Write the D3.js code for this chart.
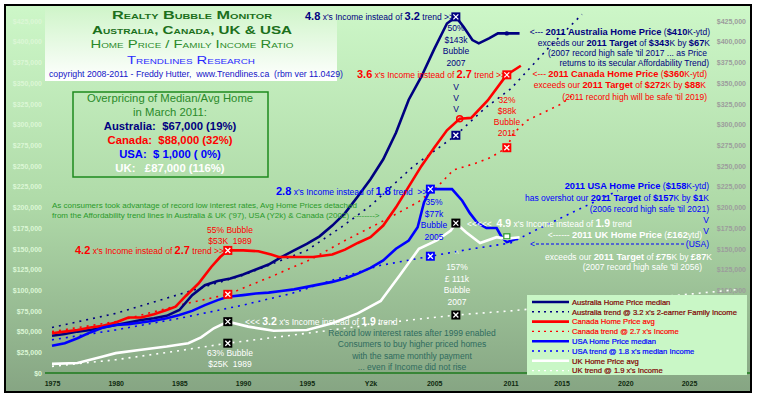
<!DOCTYPE html>
<html>
<head>
<meta charset="utf-8">
<script src="https://cdn.jsdelivr.net/npm/d3@7"></script>
<style>
  body { margin: 0; background: #fff; }
  svg text { font-family: "Liberation Sans", Arial, sans-serif; white-space: pre; }
</style>
</head>
<body>
<svg id="chart"></svg>
<script>
// tick labels
var xTicks = [1975, 1980, 1985, 1990, 1995, 2000, 2005, 2011, 2015, 2020, 2025];
var xTickLabels = ["1975", "1980", "1985", "1990", "1995", "Y2k", "2005", "2011", "2015", "2020", "2025"];
var yTicks = d3.range(0, 425001, 25000);

// series, [year, $k]
var ausMedian = [[1975,45],[1976,47],[1977,50],[1978,52],[1979,55],[1980,58],[1981,61],[1982,64],[1983,66],[1984,69],[1985,76],[1986,94],[1987,106],[1988,111],[1989,114],[1990,119],[1991,125],[1992,131],[1993,140],[1994,148],[1995,156],[1996,165],[1997,178],[1998,193],[1999,213],[2000,234],[2001,258],[2002,290],[2003,330],[2004,358],[2005,391],[2006,422],[2006.7,430],[2007.3,418],[2008,402],[2008.5,398],[2009.3,404],[2010,410],[2010.7,410],[2011.7,410]];
var ausTrend = [[1975,55],[1980,72],[1985,95],[1990,118],[1995,148],[1997.7,176],[2000,202],[2003.4,250],[2006.7,287],[2009,320],[2011,343],[2014,393],[2016.6,433]];
var canAvg = [[1975,48],[1976,50],[1977,52],[1978,55],[1979,57],[1980,61],[1981,67],[1982,67],[1983,71],[1984,76],[1984.7,80],[1985.5,93],[1986.5,108],[1987.5,128],[1988.2,140],[1988.8,148],[1990,148],[1991.2,147],[1992.2,143],[1992.8,140],[1994,140],[1995.5,140],[1997,143],[1998,149],[1999,157],[2000,164],[2001,178],[2002,200],[2003,225],[2004,250],[2005,272],[2006,293],[2007,307],[2007.9,308],[2009.2,329],[2010.5,356],[2010.7,360],[2011.8,371]];
var canTrend = [[1975,50],[1980,62],[1985,82],[1988.8,95],[1992,115],[1995.3,137],[1998,160],[2000.8,182],[2003.7,206],[2005.2,224],[2006.5,245],[2008.4,254],[2009.4,260],[2010.7,272],[2011.2,289],[2012.3,305],[2015,325],[2016,337]];
var usaMedian = [[1975,33],[1976,36],[1977,42],[1978,49],[1979,55],[1980,58],[1981,59],[1982,61],[1983,63],[1984,66],[1985,70],[1986,75],[1987,82],[1988,88],[1988.8,92],[1990,94],[1991,96],[1992,97],[1993,99],[1994,101],[1995,104],[1996,107],[1997,110],[1998,114],[1999,120],[2000,127],[2001,136],[2002,150],[2003,160],[2003.7,176],[2004.2,206],[2004.7,222],[2005.5,222],[2006.4,222],[2007.2,208],[2007.8,193],[2008.4,181],[2009.1,175],[2009.9,175],[2010.3,164],[2010.7,158],[2011.5,162]];
var usaTrend = [[1975,40],[1980,52],[1985,66],[1990,82],[1993.8,96],[1997,112],[2000.8,130],[2004.7,141],[2008,150],[2011,157],[2012.9,172],[2016,195],[2019.4,220]];
var ukAvg = [[1975,11],[1977,12],[1978,16],[1979,20],[1980,24],[1982,28],[1984,32],[1985.7,36],[1986.7,43],[1987.7,54],[1988.8,62],[1990.4,56],[1992.4,51],[1995,52],[1997,60],[1999,72],[2000.8,87],[2002.3,118],[2003.8,150],[2005.2,160],[2006.3,172],[2006.7,181],[2007.5,170],[2008.6,157],[2009.9,164],[2010.7,162],[2011.7,164]];
var ukTrend = [[1975,8],[1980,16],[1985,27],[1988.8,36],[1993,44],[1997,52],[2002,62],[2006.7,70],[2011,75],[2020,88],[2029,101]];

// bubble markers [year, $k, colour]
var markers = [[2006.7,430,"#000080"],[2006.7,287,"#000080"],[2010.7,360,"#ff0000"],[2010.7,272,"#ff0000"],
  [1988.8,148,"#ff0000"],[1988.8,95,"#ff0000"],[2004.7,222,"#0000ff"],[2004.7,141,"#0000ff"],
  [2006.7,181,"#000000"],[2006.7,70,"#000000"],[1988.8,62,"#000000"],[1988.8,36,"#000000"]];

var legendLabels = ["Australia Home Price median", "Australia trend @ 3.2 x's 2-earner Family Income",
  "Canada Home Price avg", "Canada trend @ 2.7 x's Income", "USA Home Price median",
  "USA trend @ 1.8 x's median Income", "UK Home Price avg", "UK trend @ 1.9 x's Income"];

var navy = "#000080", red = "#ff0000", blue = "#0000ff", white = "#ffffff", maroon = "#800000";
var series = [
  {data: ausMedian, color: navy, dash: false, text: maroon},
  {data: ausTrend, color: navy, dash: true, text: maroon},
  {data: canAvg, color: red, dash: false, text: red},
  {data: canTrend, color: red, dash: true, text: red},
  {data: usaMedian, color: blue, dash: false, text: blue},
  {data: usaTrend, color: blue, dash: true, text: blue},
  {data: ukAvg, color: white, dash: false, text: maroon},
  {data: ukTrend, color: white, dash: true, text: maroon}
];

var svg = d3.select("#chart").attr("width", 757).attr("height", 397);
var x = d3.scaleLinear().domain([1975, 2025]).range([52, 689]);
var y = d3.scaleLinear().domain([0, 425000]).range([373, 21]);

var defs = svg.append("defs");
var bg = defs.append("linearGradient").attr("id", "bg").attr("x1", 0).attr("y1", 0).attr("x2", 0).attr("y2", 1);
bg.append("stop").attr("offset", 0).attr("stop-color", "#cdf7c8");
bg.append("stop").attr("offset", 0.5).attr("stop-color", "#b0dba9");
bg.append("stop").attr("offset", 1).attr("stop-color", "#86a583");
var tg = defs.append("linearGradient").attr("id", "tg").attr("x1", 0).attr("y1", 0).attr("x2", 0).attr("y2", 1);
tg.append("stop").attr("offset", 0).attr("stop-color", "#d0f5ca");
tg.append("stop").attr("offset", 1).attr("stop-color", "#ffffff");
defs.append("clipPath").attr("id", "clip").append("rect").attr("x", 6).attr("y", 6).attr("width", 744).attr("height", 385);

svg.append("rect").attr("x", 5).attr("y", 5).attr("width", 746).attr("height", 387)
  .attr("fill", "url(#bg)").attr("stroke", "#000").attr("stroke-width", 2);

// axes (right labels below $100k sit under the legend, so they are left out)
var money = function (d) { return "$" + d3.format(",")(d); };
var yr = svg.append("g").attr("transform", "translate(746,0)")
  .call(d3.axisLeft(y).tickValues(yTicks.filter(function (v) { return v >= 100000; })).tickSize(0).tickPadding(0).tickFormat(money));
yr.select(".domain").remove();
yr.selectAll("text").attr("font-family", "Liberation Sans, Arial, sans-serif").attr("font-size", 7).attr("font-weight", "bold").attr("fill", "#9c9c9c");
var yl = svg.append("g").attr("transform", "translate(42,0)")
  .call(d3.axisLeft(y).tickValues(yTicks).tickSize(0).tickPadding(0).tickFormat(money));
yl.select(".domain").remove();
yl.selectAll("text").attr("font-family", "Liberation Sans, Arial, sans-serif").attr("font-size", 7).attr("font-weight", "bold").attr("fill", "#dcf7d6");

var xa = svg.append("g").attr("transform", "translate(0," + y(0) + ")")
  .call(d3.axisBottom(x).tickValues(xTicks).tickSize(0).tickPadding(8).tickFormat(function (d, i) { return xTickLabels[i]; }));
xa.select(".domain").remove();
xa.selectAll("text").attr("font-family", "Liberation Sans, Arial, sans-serif").attr("font-size", 7).attr("font-weight", "bold").attr("fill", "#0f2a0f");

svg.append("line").attr("x1", 45).attr("x2", 750).attr("y1", y(0)).attr("y2", y(0))
  .attr("stroke", "#1d7a1d").attr("stroke-width", 1.5);

// title block
svg.append("rect").attr("x", 45).attr("y", 8).attr("width", 292).attr("height", 73).attr("fill", "url(#tg)");
function title(txt, cx, by, w, fs, color, weight, caps) {
  var t = svg.append("text").attr("x", cx).attr("y", by).attr("text-anchor", "middle")
    .attr("font-size", fs).attr("fill", color).attr("font-weight", weight).text(txt)
    .attr("textLength", w).attr("lengthAdjust", "spacingAndGlyphs");
  if (caps) t.attr("font-family", "DejaVu Sans, sans-serif").style("font-variant", "small-caps");
  return t;
}
title("Realty Bubble Monitor", 192, 19, 160, 10.5, "#1c701c", "bold", true);
title("Australia, Canada, UK & USA", 192, 34, 200, 10.5, "#1c701c", "bold", true);
title("Home Price / Family Income Ratio", 192, 48, 203, 10.5, "#2a8a2a", "normal", true);
title("Trendlines Research", 191, 64, 128, 10.5, "#2a2aff", "normal", true);
title("copyright 2008-2011 - Freddy Hutter,  www.Trendlines.ca  (rbm ver 11.0429)", 196, 77, 294, 8.3, "#1414c8", "normal", false);

// overpricing box
svg.append("rect").attr("x", 73).attr("y", 92).attr("width", 195).attr("height", 85)
  .attr("fill", "none").attr("stroke", "#1e8a1e").attr("stroke-width", 1.5);
var boxLines = [["Overpricing of Median/Avg Home", "#2a8a2a", "normal", 102],
  ["in March 2011:", "#2a8a2a", "normal", 116],
  ["Australia:  $67,000 (19%)", navy, "bold", 130],
  ["Canada:  $88,000 (32%)", red, "bold", 144],
  ["USA:  $ 1,000 ( 0%)", blue, "bold", 158],
  ["UK:   £87,000 (116%)", white, "bold", 172]];
boxLines.forEach(function (b) {
  svg.append("text").attr("x", 170).attr("y", b[3]).attr("text-anchor", "middle")
    .attr("font-family", "DejaVu Sans, sans-serif").attr("font-size", 11.3)
    .attr("fill", b[1]).attr("font-weight", b[2]).text(b[0]);
});

// lines
var line = d3.line().x(function (d) { return x(d[0]); }).y(function (d) { return y(d[1] * 1000); });
var plot = svg.append("g").attr("clip-path", "url(#clip)");
var ordered = series.filter(function (s) { return s.dash; }).concat(series.filter(function (s) { return !s.dash; }));
plot.selectAll("path.s").data(ordered).enter().append("path").attr("class", "s")
  .attr("d", function (s) { return line(s.data); })
  .attr("fill", "none").attr("stroke", function (s) { return s.color; })
  .attr("stroke-width", function (s) { return s.dash ? 1.6 : 2.6; })
  .attr("stroke-dasharray", function (s) { return s.dash ? "2,5" : null; });

// small end markers
svg.append("circle").attr("cx", x(2010.7)).attr("cy", y(410000)).attr("r", 2.2).attr("fill", navy);
svg.append("circle").attr("cx", x(2007)).attr("cy", y(307000)).attr("r", 3).attr("fill", "none").attr("stroke", red).attr("stroke-width", 1.5);
svg.append("rect").attr("x", x(2010.7) - 3).attr("y", y(162000) - 5).attr("width", 6).attr("height", 5)
  .attr("fill", "#fff").attr("stroke", "#2a9a2a").attr("stroke-width", 1.2);

var mk = svg.selectAll("g.mk").data(markers).enter().append("g").attr("class", "mk")
  .attr("transform", function (d) { return "translate(" + x(d[0]) + "," + y(d[1] * 1000) + ")"; });
mk.append("rect").attr("x", -4.5).attr("y", -4.5).attr("width", 9).attr("height", 9).attr("fill", function (d) { return d[2]; });
mk.append("path").attr("d", "M-2.5,-2.5L2.5,2.5M2.5,-2.5L-2.5,2.5").attr("stroke", "#fff").attr("stroke-width", 1.3);

// annotations
function note(x0, y0, parts, color, anchor) {
  var t = svg.append("text").attr("x", x0).attr("y", y0).attr("fill", color)
    .attr("text-anchor", anchor || "start").attr("font-size", 8.5);
  parts.forEach(function (p) {
    if (typeof p === "string") t.append("tspan").text(p);
    else t.append("tspan").text(p[0]).attr("font-weight", "bold").attr("font-size", p[1]);
  });
  return t;
}
function stack(cx, y0, lines, color, step) {
  lines.forEach(function (l, i) {
    svg.append("text").attr("x", cx).attr("y", y0 + i * (step || 11.5)).attr("text-anchor", "middle")
      .attr("font-size", 8.5).attr("fill", color).text(l);
  });
}

note(305, 20, [["4.8", 11], " x's Income instead of ", ["3.2", 11], " trend >>"], navy);
stack(456, 31, ["50%", "$143k", "Bubble", "2007"], navy, 11.7);
stack(456, 90, ["V", "V", "V"], navy, 11);
note(357, 78, [["3.6", 11], " x's Income instead of ", ["2.7", 11], " trend >>"], red);
stack(507, 103, ["32%", "$88k", "Bubble", "2011"], red, 11);

note(710, 35, ["<--- ", ["2011 Australia Home Price", 9.3], " (", ["$410", 9.3], "K-ytd)"], navy, "end");
note(710, 46, ["exceeds our ", ["2011 Target", 9.3], " of ", ["$343", 9.3], "K by ", ["$67", 9.3], "K"], navy, "end");
note(707, 56, ["(2007 record high safe 'til 2017 ... as Price"], navy, "end");
note(709, 66, ["returns to its secular Affordability Trend)"], navy, "end");

note(707, 77, ["<--- ", ["2011 Canada Home Price", 9.3], " (", ["$360", 9.3], "K-ytd)"], red, "end");
note(706, 88, ["exceeds our ", ["2011 Target", 9.3], " of ", ["$272", 9.3], "K by ", ["$88", 9.3], "K"], red, "end");
note(707, 100, ["(2011 record high will be safe 'til 2019)"], red, "end");

note(709, 189, [["2011 USA Home Price", 9.3], " (", ["$158", 9.3], "K-ytd)"], blue, "end");
note(709, 201, ["has overshot our ", ["2011 Target", 9.3], " of ", ["$157", 9.3], "K by ", ["$1", 9.3], "K"], blue, "end");
note(709, 212, ["(2006 record high safe 'til 2021)"], blue, "end");
stack(706, 223, ["V", "V"], blue, 11);
note(709, 247, ["(USA)"], blue, "end");
note(530, 247, ["<"], blue);
svg.append("line").attr("x1", 536).attr("x2", 684).attr("y1", 244).attr("y2", 244)
  .attr("stroke", blue).attr("stroke-width", 1).attr("stroke-dasharray", "3,2");

note(467, 227, ["<<<<<  ", ["4.9", 10.5], " x's Income instead of ", ["1.9", 10.5], " trend"], white);
note(702, 238, ["<------ ", ["2011 UK Home Price", 9.3], " (", ["£162", 9.3], "ytd)"], white, "end");
note(712, 260, ["exceeds our ", ["2011 Target", 9.3], " of ", ["£75", 9.3], "K by ", ["£87", 9.3], "K"], white, "end");
note(702, 270, ["(2007 record high safe 'til 2056)"], white, "end");

note(276, 195, [["2.8", 11], " x's Income instead of ", ["1.8", 11], " trend  >>"], blue);
stack(434, 205, ["35%", "$77k", "Bubble", "2005"], blue, 11.7);
stack(457, 257, ["^"], "#e0f0e0");
stack(457, 270, ["157%", "£ 111k", "Bubble", "2007"], white, 11.5);

var g1 = note(52, 208, ["As consumers took advantage of record low interest rates, Avg Home Prices detached"], "#2a9a2a");
g1.attr("font-size", 8);
var g2 = note(52, 218, ["from the Affordability trend lines in Australia & UK ('97), USA (Y2k) & Canada (2002)  -------->"], "#2a9a2a");
g2.attr("font-size", 8);

stack(230, 233, ["55% Bubble", "$53K  1989"], red, 11);
note(75, 254, [["4.2", 11], " x's Income instead of ", ["2.7", 11], " trend >>"], red);
note(245, 325, ["<<< ", ["3.2", 10.5], " x's Income instead of ", ["1.9", 10.5], " trend"], white);
stack(230, 356, ["63% Bubble", "$25K  1989"], white, 11);
stack(412, 336, ["Record low interest rates after 1999 enabled", "Consumers to buy higher priced homes",
  "with the same monthly payment", "... even if Income did not rise"], "#2e6b5e", 11.3);

// legend
var lg = svg.append("g");
lg.append("rect").attr("x", 527).attr("y", 295).attr("width", 220).attr("height", 80).attr("fill", "#c9f7c6");
var row = lg.selectAll("g.row").data(series).enter().append("g").attr("class", "row")
  .attr("transform", function (d, i) { return "translate(0," + (302 + i * 9.8) + ")"; });
row.append("line").attr("x1", 532).attr("x2", 569).attr("y1", 0).attr("y2", 0)
  .attr("stroke", function (d) { return d.color; })
  .attr("stroke-width", function (d) { return d.dash ? 1.4 : 2.6; })
  .attr("stroke-dasharray", function (d) { return d.dash ? "2,4" : null; });
row.append("text").attr("x", 572).attr("y", 2.8).attr("font-size", 7.6)
  .attr("fill", function (d) { return d.text; })
  .attr("stroke", function (d) { return d.text; }).attr("stroke-width", 0.2)
  .text(function (d, i) { return legendLabels[i]; });
</script>
</body>
</html>
